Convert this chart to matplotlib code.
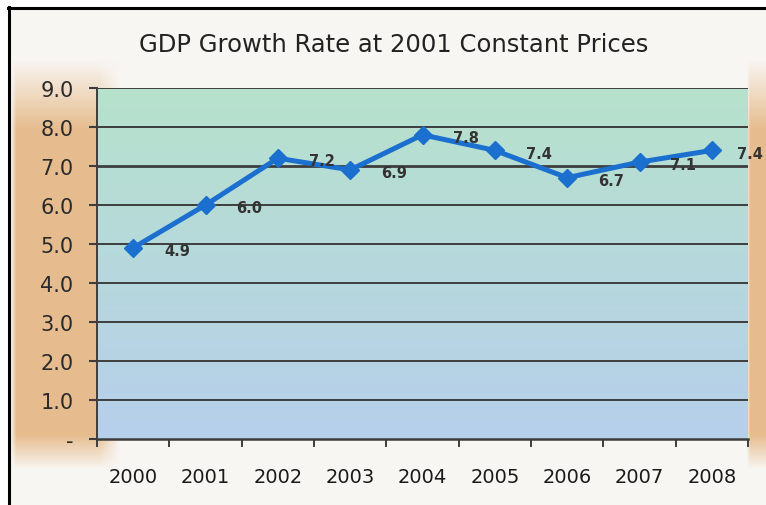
import numpy as np
import matplotlib
matplotlib.use("Agg")
import matplotlib.pyplot as plt
from matplotlib.ticker import FixedLocator

# ---- data ----
years = ["2000", "2001", "2002", "2003", "2004", "2005", "2006", "2007", "2008"]
growth = [4.9, 6.0, 7.2, 6.9, 7.8, 7.4, 6.7, 7.1, 7.4]
point_labels = ["4.9", "6.0", "7.2", "6.9", "7.8", "7.4", "6.7", "7.1", "7.4"]
y_ticks = [0, 1, 2, 3, 4, 5, 6, 7, 8, 9]
y_tick_labels = ["-", "1.0", "2.0", "3.0", "4.0", "5.0", "6.0", "7.0", "8.0", "9.0"]
title = "GDP Growth Rate at 2001 Constant Prices"

W, H = 766, 506
fig = plt.figure(figsize=(W / 100, H / 100), dpi=100)

# ---- figure background (scan-like tan edges) ----
bg = fig.add_axes([0, 0, 1, 1], zorder=-10)
xx = np.arange(W)[None, :].astype(float)
yy = np.arange(H)[:, None].astype(float)
white = np.array([248, 246, 243]) / 255
tan = np.array([230, 188, 142]) / 255
hl = np.clip((xx - 10) / 6, 0, 1) * np.clip((120 - xx) / 22, 0, 1)
hr = np.clip((xx - 746) / 4, 0, 1)
h = np.maximum(hl, hr)
v = np.clip((yy - 60) / 70, 0, 1) * np.clip((470 - yy) / 35, 0, 1)
w = (h * v)[..., None]
img = white[None, None, :] * (1 - w) + tan[None, None, :] * w
img[:, :8] = 1.0
img[:8, :] = 1.0
bg.imshow(img, extent=[0, W, H, 0], aspect="auto", interpolation="bilinear")
bg.plot([9, 9], [8, H], color="black", lw=2.2)
bg.plot([8, W], [8.5, 8.5], color="black", lw=2.2)
bg.set_xlim(0, W)
bg.set_ylim(H, 0)
bg.axis("off")

# ---- main axes ----
left, right, top, bottom = 97, 748, 89, 440
ax = fig.add_axes([left / W, 1 - bottom / H, (right - left) / W, (bottom - top) / H])
ax.set_xlim(-0.5, len(years) - 0.5)
ax.set_ylim(0, 9)

# plot area gradient green -> blue
grad = np.linspace(0, 1, 256)[:, None, None]
c_top = np.array([183, 226, 204]) / 255
c_bot = np.array([182, 207, 236]) / 255
gimg = c_top[None, None, :] * (1 - grad) + c_bot[None, None, :] * grad
gimg = np.repeat(gimg, 2, axis=1)
ax.imshow(gimg, extent=[-0.5, len(years) - 0.5, 0, 9], aspect="auto", zorder=0,
          origin="upper", interpolation="bilinear")

for yv in y_ticks[1:]:
    ax.axhline(yv, color="#3d3d3d", lw=2.0 if yv == 7 else 1.4, zorder=1)

x = np.arange(len(years))
ax.plot(x, growth, color="#1a6fcf", lw=3.6, marker="D", markersize=9,
        markeredgecolor="#1a6fcf", zorder=3, solid_joinstyle="round")

n = len(years)
for i, (xi, yv, lab) in enumerate(zip(x, growth, point_labels)):
    dx = 27.5 if i == n - 1 else 31.5
    ax.annotate(lab, (xi, yv), xytext=(dx, -2.0), textcoords="offset points",
                ha="center", va="center", fontsize=10.5, fontweight="bold",
                color="#333333", zorder=4, annotation_clip=False)

# axes styling
for s in ["top", "right"]:
    ax.spines[s].set_visible(False)
ax.spines["left"].set_color("#3d3d3d")
ax.spines["left"].set_linewidth(1.4)
ax.spines["bottom"].set_color("#3d3d3d")
ax.spines["bottom"].set_linewidth(1.8)

ax.set_yticks(y_ticks)
ax.set_yticklabels(y_tick_labels, fontsize=15, color="#2a2a2a")
ax.tick_params(axis="y", length=6, width=1.5, color="#3d3d3d", pad=11)

ax.xaxis.set_major_locator(FixedLocator(np.arange(-0.5, len(years), 1.0)))
ax.xaxis.set_minor_locator(FixedLocator(x))
ax.set_xticklabels([], minor=False)
ax.set_xticklabels(years, minor=True, fontsize=14, color="#1a1a1a")
ax.tick_params(axis="x", which="major", length=6, width=1.4, color="#3d3d3d")
ax.tick_params(axis="x", which="minor", length=0, pad=20)

fig.text(0.5 * (143 + 645) / W, 1 - 45 / H, title, ha="center", va="center",
         fontsize=17.5, color="#222222")

fig.savefig("out.png", dpi=100)
